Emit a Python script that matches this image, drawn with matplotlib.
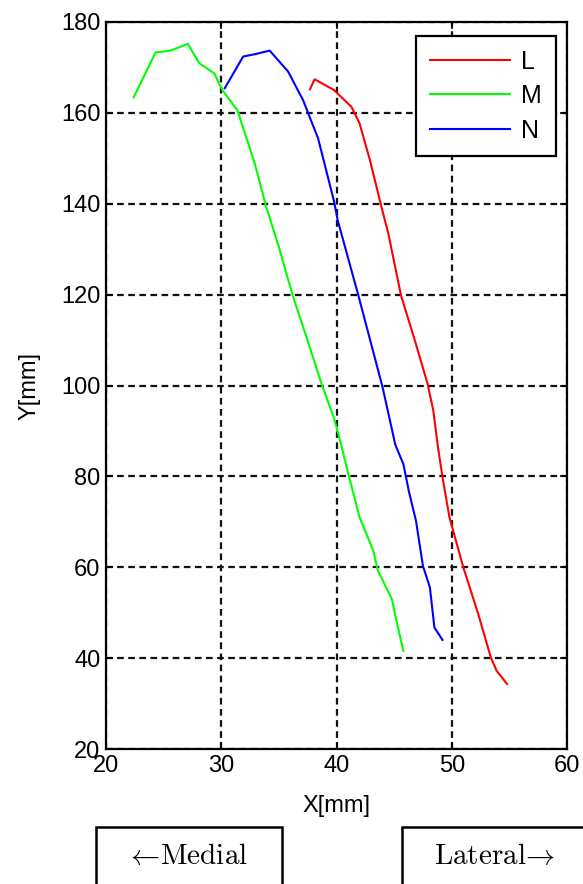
import matplotlib
matplotlib.use("Agg")
import matplotlib.pyplot as plt
from matplotlib import font_manager
from matplotlib.patches import Rectangle

# curve samples (x, y in mm)
L_x = [37.7, 38.1, 39.8, 41.3, 42.0, 42.9, 43.9, 44.5, 45.6, 46.8, 47.9, 48.4,
       48.8, 49.2, 49.8, 51.0, 52.3, 53.4, 53.9, 54.8]
L_y = [165.2, 167.4, 165.0, 161.3, 157.7, 149.6, 139.3, 133.4, 119.8, 109.9, 100.4, 94.5,
       86.5, 79.8, 71.0, 60.0, 49.7, 40.1, 37.2, 34.3]

M_x = [22.4, 24.3, 25.6, 27.1, 28.1, 29.4, 30.1, 31.4, 32.9, 33.9, 35.0, 36.2,
       37.4, 38.7, 39.8, 40.4, 41.1, 42.0, 43.2, 43.6, 44.8, 45.2, 45.8]
M_y = [163.4, 173.3, 173.7, 175.2, 170.9, 168.7, 165.0, 160.6, 148.9, 139.3, 130.5, 119.8,
       110.6, 100.4, 92.7, 87.0, 79.8, 71.0, 63.6, 59.2, 53.0, 48.2, 41.6]

N_x = [30.3, 31.9, 32.9, 34.2, 35.8, 37.1, 38.4, 39.8, 40.1, 41.9, 44.0, 45.1,
       45.8, 46.3, 46.9, 47.5, 48.1, 48.5, 49.2]
N_y = [165.4, 172.4, 172.9, 173.7, 169.1, 162.8, 154.4, 140.4, 136.4, 119.8, 99.6, 87.0,
       82.7, 76.5, 70.2, 60.3, 55.6, 46.7, 44.0]

x_ticks = [20, 30, 40, 50, 60]
y_ticks = [20, 40, 60, 80, 100, 120, 140, 160, 180]

# narrow sans if we have it, otherwise plain Liberation Sans a bit smaller
names = {f.name for f in font_manager.fontManager.ttflist}
if 'Liberation Sans Narrow' in names:
    fam, fs = 'Liberation Sans Narrow', 20
else:
    fam, fs = 'Liberation Sans', 17
plt.rcParams['font.family'] = [fam, 'DejaVu Sans']
plt.rcParams['mathtext.fontset'] = 'cm'

fig = plt.figure(figsize=(5.83, 8.84), dpi=100)
ax = fig.add_axes([106 / 583, 135 / 884, 461 / 583, 727 / 884])

ax.plot(L_x, L_y, color='#ff0000', lw=1.5, label='L')
ax.plot(M_x, M_y, color='#00ff00', lw=1.5, label='M')
ax.plot(N_x, N_y, color='#0000ff', lw=1.5, label='N')

ax.set_xlim(20, 60)
ax.set_ylim(20, 180)
ax.set_xticks(x_ticks)
ax.set_yticks(y_ticks)
ax.tick_params(direction='in', length=5, width=1.2, labelsize=fs, top=True, right=True,
               pad=4, colors='black')
ax.grid(True, color='#111111', linestyle=(0, (3, 2)), linewidth=1.6)
for s in ax.spines.values():
    s.set_linewidth(1.6)

ax.set_xlabel('X[mm]', fontsize=fs)
ax.xaxis.set_label_coords(0.5, -0.078)
ax.xaxis.label.set_va('center')
ax.set_ylabel('Y[mm]', fontsize=fs)
ax.yaxis.set_label_coords(-0.165, 0.5)
ax.yaxis.label.set_va('center')

leg = ax.legend(loc='upper right', bbox_to_anchor=(0.976, 0.981), fontsize=fs + 1,
                frameon=True, fancybox=False, framealpha=1, handlelength=3.2,
                handletextpad=0.45, borderpad=0.55, labelspacing=0.42, borderaxespad=0)
leg.get_frame().set_edgecolor('black')
leg.get_frame().set_linewidth(1.6)

# direction boxes at the bottom, partly cut off by the figure edge
W, H = 583.0, 884.0
top = 1 - 827 / H
fig.patches.append(Rectangle((96 / W, -0.02), (282 - 96) / W, top + 0.02,
                             transform=fig.transFigure, fill=False, ec='black', lw=1.8))
fig.patches.append(Rectangle((402 / W, -0.02), 0.4, top + 0.02,
                             transform=fig.transFigure, fill=False, ec='black', lw=1.8))
fig.text(187 / W, 1 - 864 / H, r'$\leftarrow\!\mathrm{Medial}$', ha='center',
         va='baseline', fontsize=21)
fig.text(495 / W, 1 - 864 / H, r'$\mathrm{Lateral}\!\rightarrow$', ha='center',
         va='baseline', fontsize=21)

fig.savefig('out.png', dpi=100)
